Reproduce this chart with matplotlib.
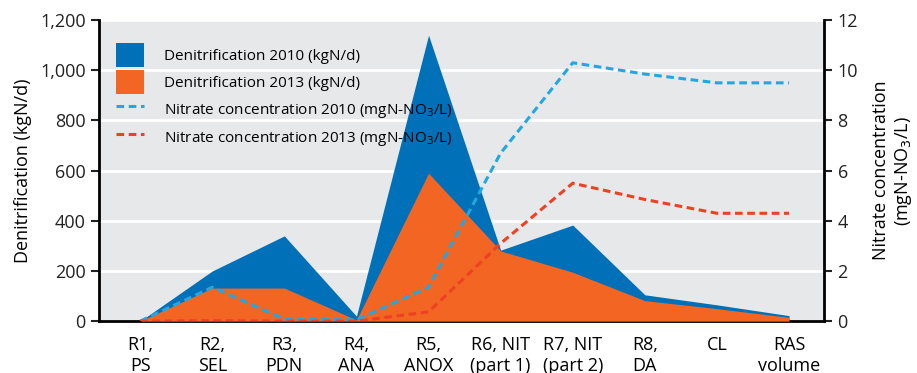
import numpy as np
import matplotlib.pyplot as plt
from matplotlib.patches import Patch
from matplotlib.lines import Line2D

plt.rcParams['font.family'] = ['Open Sans', 'DejaVu Sans']

categorias = ['R1,\nPS', 'R2,\nSEL', 'R3,\nPDN', 'R4,\nANA', 'R5,\nANOX',
              'R6, NIT\n(part 1)', 'R7, NIT\n(part 2)', 'R8,\nDA', 'CL', 'RAS\nvolume']
denit_2010 = [0, 200, 340, 20, 1140, 283, 383, 105, 65, 22]
denit_2013 = [0, 132, 132, 5, 590, 280, 195, 82, 50, 15]
nitrato_2010 = [0, 1.35, 0.08, 0.05, 1.35, 6.7, 10.3, 9.85, 9.5, 9.5]
nitrato_2013 = [0, 0.02, 0.0, 0.0, 0.37, 3.1, 5.5, 4.85, 4.3, 4.3]

azul = '#0070b8'
laranja = '#f26522'
azul_claro = '#22a7e0'
vermelho = '#ee4023'
cinza = '#e7e8e9'

x = np.arange(len(categorias))

fig = plt.figure(figsize=(9.17, 3.73), dpi=100)
ax = fig.add_axes([0.108, 0.139, 0.791, 0.807])
ax.set_facecolor(cinza)

ax.fill_between(x, denit_2010, color=azul, lw=0, zorder=2)
ax.fill_between(x, denit_2013, color=laranja, lw=0, zorder=3)

ax.set_ylim(0, 1200)
ax.set_xlim(-0.57, 9.49)
ax.set_yticks(range(0, 1201, 200))
ax.set_yticklabels([f'{v:,}' for v in range(0, 1201, 200)])
ax.yaxis.grid(True, color='white', lw=2)
ax.set_axisbelow(True)
ax.set_xticks(x)
ax.set_xticklabels(categorias, fontsize=13, linespacing=1.15)
ax.tick_params(axis='x', length=0, pad=11)
ax.tick_params(axis='y', labelsize=13, length=6, width=1.5, colors='#222222')
ax.set_ylabel('Denitrification (kgN/d)', fontsize=13, labelpad=6)
ax.spines['top'].set_visible(False)
ax.spines['left'].set_linewidth(2)
ax.spines['bottom'].set_linewidth(2)
ax.spines['right'].set_visible(False)

ax2 = ax.twinx()
ax2.plot(x, nitrato_2010, color=azul_claro, ls=(0, (2.5, 1.5)), lw=2.2, zorder=5)
ax2.plot(x, nitrato_2013, color=vermelho, ls=(0, (2.5, 1.5)), lw=2.2, zorder=5)
ax2.set_ylim(0, 12)
ax2.set_yticks(range(0, 13, 2))
ax2.tick_params(axis='y', labelsize=13, length=6, width=1.5, colors='#222222')
ax2.set_ylabel('Nitrate concentration\n(mgN-NO$_3$/L)', fontsize=13, labelpad=10)
ax2.spines['top'].set_visible(False)
ax2.spines['left'].set_visible(False)
ax2.spines['bottom'].set_visible(False)
ax2.spines['right'].set_linewidth(2)

handles = [
    Patch(facecolor=azul, label='Denitrification 2010 (kgN/d)'),
    Patch(facecolor=laranja, label='Denitrification 2013 (kgN/d)'),
    Line2D([], [], color=azul_claro, ls=(0, (2.5, 1.5)), lw=2.2,
           label='Nitrate concentration 2010 (mgN-NO$_3$/L)'),
    Line2D([], [], color=vermelho, ls=(0, (2.5, 1.5)), lw=2.2,
           label='Nitrate concentration 2013 (mgN-NO$_3$/L)'),
]
ax2.legend(handles=handles, loc='upper left', bbox_to_anchor=(0.005, 0.97),
           frameon=False, fontsize=11, handlelength=1.8, handleheight=2.0,
           handletextpad=1.3, labelspacing=0.25)

plt.savefig('out.png', dpi=100)
